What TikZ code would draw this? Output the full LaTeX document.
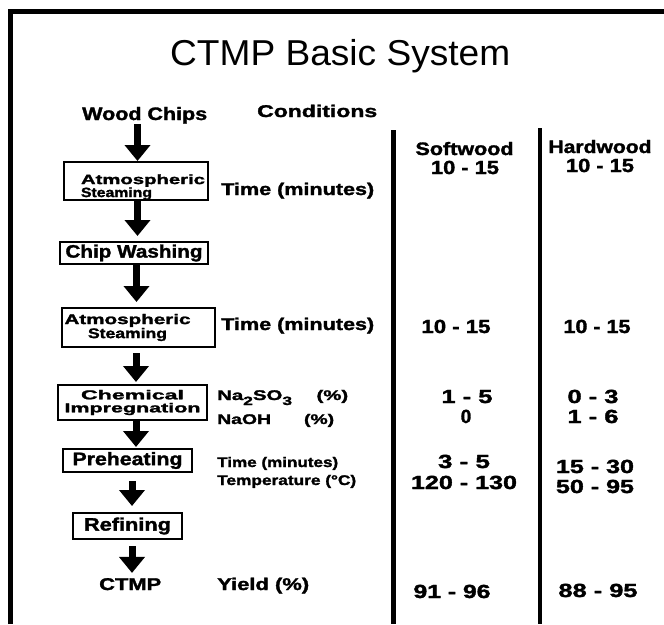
\documentclass[tikz,border=0pt]{standalone}
\usepackage{fontspec}
\setmainfont{Liberation Sans}[BoldFeatures={FakeBold=1.6}]
\usetikzlibrary{arrows.meta}
% stretch a text horizontally to a given width (in pt), keeping its height
\newcommand\xfit[2]{\resizebox{#1pt}{\height}{#2}}
\newcommand\fsz[2]{\fontsize{#1}{#2}\selectfont}
\newcommand\chemsub[1]{\raisebox{-5pt}{\fsz{12}{12}#1}}

\begin{document}
\begin{tikzpicture}[x=1pt,y=-1pt,
  lbl/.style={inner sep=0pt,anchor=base west},
  colnum/.style={inner sep=0pt,anchor=base,font=\bfseries\fsz{19}{19}},
  stage/.style={draw,line width=2pt,inner sep=0pt},
  flow/.style={line width=7pt,-{Triangle[width=25pt,length=16pt]}},
  frameline/.style={line width=4.5pt,line join=miter},
  colrule/.style={line width=4.5pt}]
\useasboundingbox (0,0) rectangle (664,624);

% outer frame (top and left edges)
\draw[frameline] (10.5,624) -- (10.5,11.5) -- (664,11.5);

% title
\node[lbl,font=\fsz{36}{36}] (title) at (170,65) {\xfit{340}{CTMP Basic System}};

% process column
\node[lbl,font=\bfseries\fsz{18}{18}] (chips) at (82,120) {\xfit{125}{Wood Chips}};
\node[lbl,font=\bfseries\fsz{17}{17}] (cond) at (257,117) {\xfit{120}{Conditions}};

\node[stage,minimum width=144pt,minimum height=38pt,align=left,font=\bfseries\fsz{13.5}{13}] (s1) at (136,181)
  {\rule{0pt}{22pt}\hspace*{14pt}\xfit{124}{Atmospheric}\\\hspace*{14pt}\xfit{71}{Steaming}};
\node[stage,minimum width=148pt,minimum height=22pt,font=\bfseries\fsz{18}{18}] (s2) at (134,253)
  {\xfit{137}{Chip Washing}};
\node[stage,minimum width=153pt,minimum height=39pt,align=center,font=\bfseries\fsz{14}{13}] (s3) at (138.5,327.5)
  {\xfit{126}{Atmospheric}\hspace*{22pt}\\\xfit{79}{Steaming}\hspace*{22pt}};
\node[stage,minimum width=149pt,minimum height=35pt,align=center,font=\bfseries\fsz{13}{13}] (s4) at (132.5,402.5)
  {\xfit{103}{Chemical}\\\xfit{136}{Impregnation}};
\node[stage,minimum width=129pt,minimum height=23pt,font=\bfseries\fsz{18}{18}] (s5) at (127.5,460.5)
  {\xfit{110}{Preheating}};
\node[stage,minimum width=109pt,minimum height=26pt,font=\bfseries\fsz{18}{18}] (s6) at (127.5,526)
  {\xfit{87}{Refining}};
\node[lbl,font=\bfseries\fsz{17}{17}] (pulp) at (99,590) {\xfit{62}{CTMP}};

% arrow columns
\coordinate (a1) at (137.5,0);
\coordinate (a2) at (137.5,0);
\coordinate (a3) at (136.5,0);
\coordinate (a4) at (136,0);
\coordinate (a5) at (136,0);
\coordinate (a6) at (132,0);
\coordinate (a7) at (132,0);

\draw[flow] (chips.south -| a1) -- (s1.north -| a1);
\draw[flow,shorten >=5pt] (s1.south -| a2) -- (s2.north -| a2);
\draw[flow,shorten >=5pt] (s2.south -| a3) -- (s3.north -| a3);
\draw[flow,shorten <=5pt,shorten >=2pt] (s3.south -| a4) -- (s4.north -| a4);
\draw[flow,shorten >=1pt] (s4.south -| a5) -- (s5.north -| a5);
\draw[flow,shorten <=8pt,shorten >=6pt] (s5.south -| a6) -- (s6.north -| a6);
\draw[flow,shorten <=6pt,shorten >=5pt] (s6.south -| a7) -- (pulp.north -| a7);

% conditions
\node[lbl,font=\bfseries\fsz{17}{17}] (t1) at (221,195) {\xfit{153}{Time (minutes)}};
\node[lbl,font=\bfseries\fsz{17}{17}] (t3) at (221,330) {\xfit{153}{Time (minutes)}};
\node[lbl,font=\bfseries\fsz{14}{14}] (sulf) at (217,400) {\xfit{131}{Na\chemsub{2}SO\chemsub{3}\hspace{1.2em}(\%)}};
\node[lbl,font=\bfseries\fsz{14}{14}] (soda) at (217,424) {\xfit{117}{NaOH\hspace{1.7em}(\%)}};
\node[lbl,font=\bfseries\fsz{14}{14}] (t5) at (217,467) {\xfit{121}{Time (minutes)}};
\node[lbl,font=\bfseries\fsz{14}{14}] (temp) at (217,485) {\xfit{139}{Temperature (°C)}};
\node[lbl,font=\bfseries\fsz{17}{17}] (yield) at (217,590) {\xfit{92}{Yield (\%)}};

% value columns
\draw[colrule] (393.5,130) -- (393.5,624);
\draw[colrule] (540,128) -- (540,624);

\node[colnum,font=\bfseries\fsz{18}{18}] (soft) at (464.5,155) {\xfit{98}{Softwood}};
\node[colnum,font=\bfseries\fsz{18}{18}] (hard) at (600,153) {\xfit{103}{Hardwood}};

\node[colnum] (sw1) at (465,174) {\xfit{68}{10 - 15}};
\node[colnum] (hw1) at (600,172) {\xfit{68}{10 - 15}};
\node[colnum] (sw3) at (456,333) {\xfit{69}{10 - 15}};
\node[colnum] (hw3) at (597,333) {\xfit{67}{10 - 15}};
\node[colnum] (sw4a) at (467,403) {\xfit{51}{1 - 5}};
\node[colnum] (sw4b) at (466,423) {0};
\node[colnum] (hw4a) at (593,403) {\xfit{51}{0 - 3}};
\node[colnum] (hw4b) at (593,423) {\xfit{51}{1 - 6}};
\node[colnum] (sw5a) at (464,468) {\xfit{52}{3 - 5}};
\node[colnum] (sw5b) at (464,489) {\xfit{106}{120 - 130}};
\node[colnum] (hw5a) at (595,473) {\xfit{78}{15 - 30}};
\node[colnum] (hw5b) at (595,493) {\xfit{78}{50 - 95}};
\node[colnum] (sw7) at (452,598) {\xfit{77}{91 - 96}};
\node[colnum] (hw7) at (598,597) {\xfit{79}{88 - 95}};
\end{tikzpicture}
\end{document}
